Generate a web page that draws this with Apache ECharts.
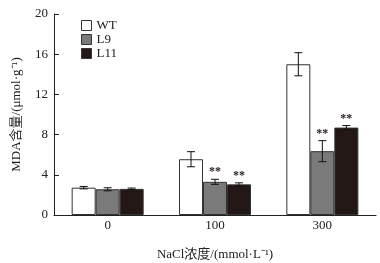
<!DOCTYPE html>
<html>
<head>
<meta charset="utf-8">
<script src="https://cdn.jsdelivr.net/npm/echarts@6/dist/echarts.min.js"></script>
<style>
  html, body { margin: 0; padding: 0; background: #fff; }
  #main { width: 380px; height: 263px; }
</style>
</head>
<body>
<div id="main"></div>
<script>
const categories = ["0", "100", "300"];
const seriesNames = ["WT", "L9", "L11"];
const wtValues = [2.72, 5.55, 15.0];
const l9Values = [2.56, 3.3, 6.35];
const l11Values = [2.6, 3.05, 8.7];
const wtErr = [0.12, 0.75, 1.15];
const l9Err = [0.15, 0.25, 1.05];
const l11Err = [0.08, 0.15, 0.2];
const wtSig = ["", "", ""];
const l9Sig = ["", "**", "**"];
const l11Sig = ["", "**", "**"];
const yTicks = [0, 4, 8, 12, 16, 20];

const fontFamily = '"Liberation Serif", "Noto Sans CJK SC", serif';
const colors = ["#ffffff", "#7a7a7a", "#231815"];
const values = [wtValues, l9Values, l11Values];
const errs = [wtErr, l9Err, l11Err];
const sigs = [wtSig, l9Sig, l11Sig];
const barW = 24;

const barSeries = seriesNames.map((name, i) => ({
  name: name,
  type: "bar",
  barWidth: barW,
  barGap: "0%",
  data: values[i],
  itemStyle: { color: colors[i], borderColor: "#333", borderWidth: 1 },
  z: 2,
}));

// error bars + significance marks
const errSeries = seriesNames.map((name, i) => ({
  type: "custom",
  name: name + "_err",
  z: 5,
  silent: true,
  data: categories.map((c, k) => [k, values[i][k], errs[i][k]]),
  renderItem: function (params, api) {
    const k = api.value(0);
    const v = api.value(1);
    const e = api.value(2);
    const s = sigs[i][k];
    const off = (i - 1) * barW;
    const top = api.coord([k, v + e]);
    const bot = api.coord([k, v - e]);
    const x = top[0] + off;
    const cap = 4;
    const st = { stroke: "#111", lineWidth: 1 };
    const children = [
      { type: "line", shape: { x1: x, y1: top[1], x2: x, y2: bot[1] }, style: st },
      { type: "line", shape: { x1: x - cap, y1: top[1], x2: x + cap, y2: top[1] }, style: st },
      { type: "line", shape: { x1: x - cap, y1: bot[1], x2: x + cap, y2: bot[1] }, style: st },
    ];
    if (s) {
      children.push({
        type: "text",
        style: {
          text: s, x: x, y: top[1] - 1, align: "center", verticalAlign: "bottom",
          font: "bold 12px " + fontFamily, fill: "#2a2020",
        },
      });
    }
    return { type: "group", children: children };
  },
}));

const chart = echarts.init(document.getElementById("main"));
chart.setOption({
  animation: false,
  textStyle: { fontFamily: fontFamily },
  grid: { left: 54, right: 4, top: 14, bottom: 48, outerBoundsMode: "none", containLabel: false },
  legend: {
    data: seriesNames,
    orient: "vertical",
    left: 76,
    top: 14,
    itemWidth: 10,
    itemHeight: 10,
    itemGap: 1,
    icon: "rect",
    itemStyle: { borderColor: "#333", borderWidth: 1 },
    textStyle: { fontFamily: fontFamily, fontSize: 13, color: "#222" },
  },
  xAxis: {
    type: "category",
    data: categories,
    name: "NaCl浓度/(mmol·L⁻¹)",
    nameLocation: "middle",
    nameGap: 33,
    nameTextStyle: { fontFamily: fontFamily, fontSize: 13, color: "#222" },
    axisLine: { lineStyle: { color: "#222", width: 1 } },
    axisTick: { inside: true, length: 5, lineStyle: { color: "#222" } },
    axisLabel: { fontFamily: fontFamily, fontSize: 13, color: "#222", margin: 4 },
  },
  yAxis: {
    type: "value",
    min: yTicks[0],
    max: yTicks[yTicks.length - 1],
    interval: 4,
    name: "MDA含量/(μmol·g⁻¹)",
    nameLocation: "middle",
    nameGap: 31,
    nameTextStyle: { fontFamily: fontFamily, fontSize: 13, color: "#222" },
    axisLine: { show: true, lineStyle: { color: "#222", width: 1 } },
    axisTick: { show: true, inside: true, length: 5, lineStyle: { color: "#222" } },
    axisLabel: { fontFamily: fontFamily, fontSize: 13, color: "#222", margin: 6 },
    splitLine: { show: false },
  },
  series: barSeries.concat(errSeries),
});
</script>
</body>
</html>
